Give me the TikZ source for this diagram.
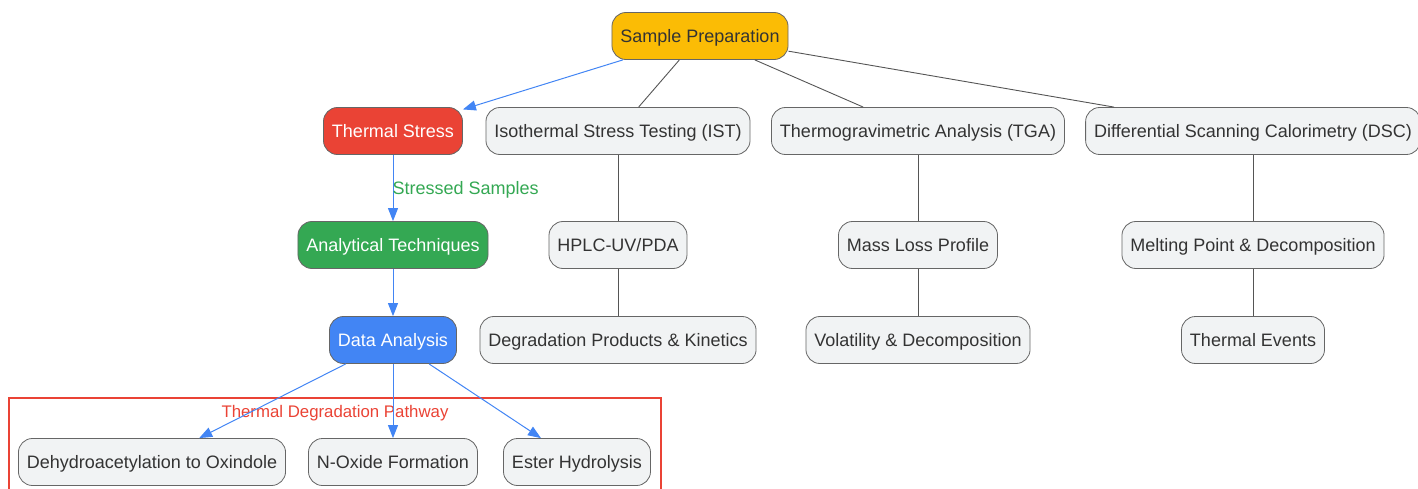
\documentclass[tikz,border=0pt]{standalone}
\usepackage{fontspec}
\setmainfont{Liberation Sans}
\usetikzlibrary{arrows.meta}
\definecolor{gyellow}{HTML}{FBBC05}
\definecolor{gred}{HTML}{EA4335}
\definecolor{ggreen}{HTML}{34A853}
\definecolor{gblue}{HTML}{4285F4}
\definecolor{boxfill}{HTML}{F1F3F4}
\definecolor{boxline}{HTML}{666666}
\definecolor{linegray}{HTML}{555555}
\definecolor{textgray}{HTML}{333333}
\begin{document}
\begin{tikzpicture}[x=1pt,y=-1pt,
    box/.style={draw=boxline,line width=0.8pt,rounded corners=14pt,minimum height=47pt,
      inner xsep=8.5pt,text height=12.5pt,text depth=0pt,fill=boxfill,text=textgray,
      font=\fontsize{18}{22}\selectfont},
    flow/.style={draw=gblue,line width=1pt,-{Triangle[length=13pt,width=10pt]}},
    link/.style={draw=linegray,line width=0.9pt}]
    \useasboundingbox (0,0) rectangle (1418,489);
    % pathway group
    \draw[color=gred,line width=1.3pt] (9,489) -- (9,398) -- (661,398) -- (661,489);
    \node[text=gred,font=\fontsize{16.8}{20}\selectfont] (pathway) at (335,413) {Thermal Degradation Pathway};
    % top
    \node[box,fill=gyellow] (prep) at (700,36) {Sample Preparation};
    % second row
    \node[box,fill=gred,text=white] (stress) at (393,131) {Thermal Stress};
    \node[box] (ist) at (618,131) {Isothermal Stress Testing (IST)};
    \node[box] (tga) at (918,131) {Thermogravimetric Analysis (TGA)};
    \node[box] (dsc) at (1253,131) {Differential Scanning Calorimetry (DSC)};
    % third row
    \node[box,fill=ggreen,text=white] (tech) at (393,245) {Analytical Techniques};
    \node[box] (hplc) at (618,245) {HPLC-UV/PDA};
    \node[box] (mass) at (918,245) {Mass Loss Profile};
    \node[box] (melt) at (1253,245) {Melting Point \& Decomposition};
    % fourth row
    \node[box,fill=gblue,text=white] (data) at (393,340) {Data Analysis};
    \node[box] (kin) at (618,340) {Degradation Products \& Kinetics};
    \node[box] (vol) at (918,340) {Volatility \& Decomposition};
    \node[box] (events) at (1253,340) {Thermal Events};
    % pathway nodes
    \node[box] (oxi) at (152,462) {Dehydroacetylation to Oxindole};
    \node[box] (nox) at (393,462) {N-Oxide Formation};
    \node[box] (ester) at (577,462) {Ester Hydrolysis};
    % connectors
    \draw[flow] (prep) -- (stress);
    \draw[link] (prep) -- (ist);
    \draw[link] (prep) -- (tga);
    \draw[link] (prep) -- (dsc);
    \draw[flow] (stress) -- node[right,inner sep=0pt,xshift=-1pt,yshift=-1.5pt,text=ggreen,font=\fontsize{18}{20}\selectfont] {Stressed Samples} (tech);
    \draw[flow] (tech) -- (data);
    \draw[flow] (data) -- (oxi);
    \draw[flow] (data) -- (nox);
    \draw[flow] (data) -- (ester);
    \draw[link] (ist) -- (hplc);
    \draw[link] (hplc) -- (kin);
    \draw[link] (tga) -- (mass);
    \draw[link] (mass) -- (vol);
    \draw[link] (dsc) -- (melt);
    \draw[link] (melt) -- (events);
\end{tikzpicture}
\end{document}
